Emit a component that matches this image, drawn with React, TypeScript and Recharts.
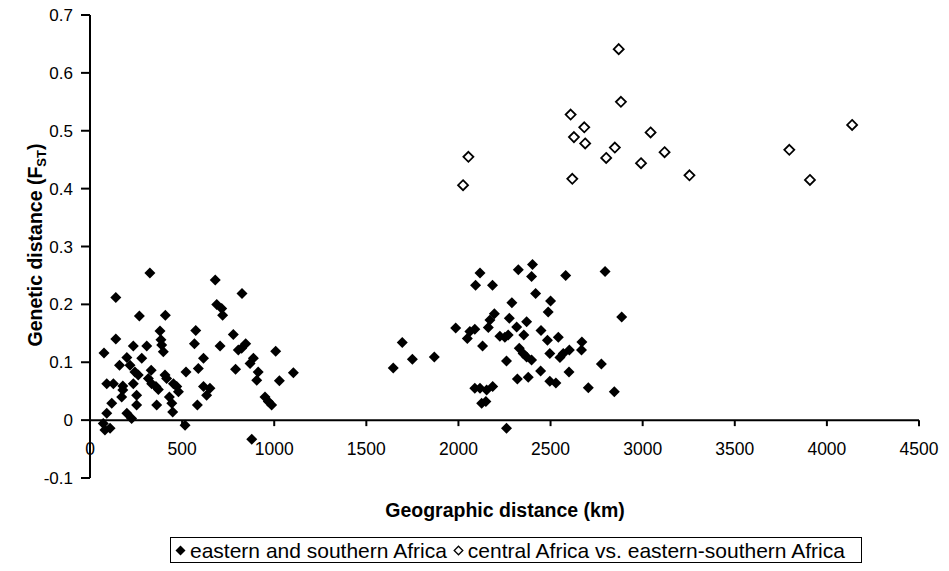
import React from 'react';
import { ScatterChart, Scatter, XAxis, YAxis, ReferenceLine, Legend } from 'recharts';

// x ticks (km) and y ticks (Fst)
const xTicks = [0, 500, 1000, 1500, 2000, 2500, 3000, 3500, 4000, 4500];
const yTicks = [-0.1, 0, 0.1, 0.2, 0.3, 0.4, 0.5, 0.6, 0.7];

const seriesNames = ['eastern and southern Africa', 'central Africa vs. eastern-southern Africa'];

// eastern and southern Africa (filled diamonds)
const easternKm = [
  325, 140, 680, 825, 268, 409, 688, 715, 720, 380, 574, 140, 385, 389, 398, 567, 778, 76, 235, 308,
  706, 845, 823, 805, 200, 281, 160, 217, 244, 262, 616, 588, 887, 869, 1008, 1104, 1028, 790, 913, 905,
  521, 332, 407, 416, 91, 127, 178, 317, 335, 235, 358, 453, 471, 480, 431, 444, 449, 371, 616, 651,
  633, 583, 950, 968, 986, 172, 118, 178, 253, 253, 200, 226, 362, 91, 72, 81, 109, 516, 878,
  2402, 2325, 2397, 2117, 2093, 2185, 2582, 2796, 2419, 2500, 2487, 2290, 2886, 2195, 2171, 2276, 2370, 2316, 2162, 1985,
  2089, 2062, 2048, 2448, 2225, 2252, 2270, 2355, 2483, 2542, 2670, 2668, 2602, 2569, 2551, 2496, 2330, 2351, 2370, 2397,
  2131, 1695, 1750, 1869, 1646, 2261, 2446, 2600, 2776, 2320, 2379, 2496, 2529, 2705, 2846, 2089, 2117, 2153, 2186, 2126,
  2149, 2261,
];
const easternFst = [
  0.254, 0.212, 0.242, 0.219, 0.18, 0.181, 0.2, 0.193, 0.181, 0.154, 0.155, 0.14, 0.139, 0.13, 0.118, 0.132, 0.148, 0.116, 0.128, 0.128,
  0.128, 0.132, 0.124, 0.121, 0.108, 0.107, 0.095, 0.095, 0.083, 0.078, 0.107, 0.089, 0.107, 0.098, 0.119, 0.082, 0.068, 0.088, 0.083, 0.069,
  0.083, 0.086, 0.078, 0.072, 0.063, 0.063, 0.059, 0.072, 0.063, 0.063, 0.058, 0.063, 0.058, 0.049, 0.04, 0.029, 0.014, 0.053, 0.058, 0.055,
  0.043, 0.026, 0.04, 0.032, 0.026, 0.04, 0.029, 0.052, 0.043, 0.026, 0.012, 0.003, 0.026, 0.012, -0.006, -0.017, -0.014, -0.009, -0.033,
  0.269, 0.26, 0.248, 0.254, 0.233, 0.233, 0.25, 0.257, 0.219, 0.206, 0.187, 0.203, 0.178, 0.184, 0.173, 0.176, 0.17, 0.161, 0.16, 0.159,
  0.157, 0.153, 0.141, 0.155, 0.145, 0.143, 0.147, 0.147, 0.138, 0.143, 0.135, 0.121, 0.121, 0.115, 0.108, 0.115, 0.124, 0.115, 0.109, 0.104,
  0.128, 0.134, 0.105, 0.109, 0.09, 0.102, 0.085, 0.083, 0.097, 0.071, 0.074, 0.067, 0.064, 0.056, 0.049, 0.055, 0.055, 0.052, 0.058, 0.029,
  0.032, -0.014,
];

// central Africa vs. eastern-southern Africa (open diamonds)
const centralKm = [2870, 2882, 2609, 2683, 2627, 2688, 3043, 2849, 2802, 3119, 2991, 3254, 2618, 2054, 2025, 3796, 4137, 3908];
const centralFst = [0.641, 0.55, 0.528, 0.506, 0.489, 0.478, 0.497, 0.471, 0.453, 0.463, 0.444, 0.423, 0.417, 0.455, 0.406, 0.467, 0.51, 0.415];

const eastern = easternKm.map((km, i) => ({ km, fst: easternFst[i] }));
const central = centralKm.map((km, i) => ({ km, fst: centralFst[i] }));

const FONT = "Arial, 'Liberation Sans', Helvetica, sans-serif";
const W = 949;
const H = 571;
const MARGIN = { top: 15, right: 30, bottom: 0, left: 0 };
const Y_AXIS_W = 90;
const X_AXIS_H = 93;
const Y_MIN = -0.1;
const Y_MAX = 0.7;
// the x axis crosses at Fst = 0, so shift its ticks up from the plot bottom
const PLOT_H = H - MARGIN.top - X_AXIS_H;
const ZERO_SHIFT = (PLOT_H * (0 - Y_MIN)) / (Y_MAX - Y_MIN);

const FilledDiamond = (props: any) => {
  const { cx, cy } = props;
  const r = 5.5;
  return <polygon points={`${cx},${cy - r} ${cx + r},${cy} ${cx},${cy + r} ${cx - r},${cy}`} fill="#000" />;
};

const OpenDiamond = (props: any) => {
  const { cx, cy } = props;
  const r = 5;
  return (
    <polygon
      points={`${cx},${cy - r} ${cx + r},${cy} ${cx},${cy + r} ${cx - r},${cy}`}
      fill="#fff"
      stroke="#000"
      strokeWidth={1.8}
    />
  );
};

const XTick = (props: any) => {
  const { x, y, payload } = props;
  const y0 = y - ZERO_SHIFT;
  return (
    <g>
      <line x1={x} x2={x} y1={y0} y2={y0 + 6} stroke="#000" strokeWidth={2} />
      <text x={x} y={y0 + 35} textAnchor="middle" fill="#000" fontSize={17.5} fontFamily={FONT}>
        {payload.value}
      </text>
    </g>
  );
};

const LegendBox = () => (
  <div
    style={{
      border: '1.5px solid #000',
      height: 24,
      display: 'flex',
      alignItems: 'center',
      paddingLeft: 4,
      fontFamily: FONT,
      fontSize: 21,
      lineHeight: 1,
      color: '#000',
      whiteSpace: 'nowrap',
      background: '#fff',
      overflow: 'hidden',
    }}
  >
    {seriesNames.map((name, i) => (
      <span key={name} style={{ display: 'inline-flex', alignItems: 'center', marginRight: 6 }}>
        <svg width={11} height={11} style={{ marginRight: 4 }}>
          {i === 0 ? (
            <polygon points="5.5,0.5 10.5,5.5 5.5,10.5 0.5,5.5" fill="#000" />
          ) : (
            <polygon points="5.5,1.2 9.8,5.5 5.5,9.8 1.2,5.5" fill="#fff" stroke="#000" strokeWidth={1.3} />
          )}
        </svg>
        {name}
      </span>
    ))}
  </div>
);

export default function App() {
  return (
    <div style={{ position: 'absolute', left: 0, top: 0, width: W, height: H, background: '#fff' }}>
      <ScatterChart width={W} height={H} margin={MARGIN}>
        <XAxis
          type="number"
          dataKey="km"
          domain={[0, 4500]}
          ticks={xTicks}
          interval={0}
          height={X_AXIS_H}
          axisLine={false}
          tickLine={false}
          tickSize={0}
          tickMargin={0}
          tick={<XTick />}
          label={{
            content: () => (
              <text x={505} y={517} textAnchor="middle" fontSize={19.5} fontWeight="bold" fontFamily={FONT} fill="#000">
                Geographic distance (km)
              </text>
            ),
          }}
        />
        <YAxis
          type="number"
          dataKey="fst"
          domain={[Y_MIN, Y_MAX]}
          ticks={yTicks}
          interval={0}
          width={Y_AXIS_W}
          axisLine={{ stroke: '#000', strokeWidth: 2 }}
          tickLine={{ stroke: '#000', strokeWidth: 2 }}
          tickSize={9}
          tickMargin={8}
          tick={{ fill: '#000', fontSize: 17, fontFamily: FONT }}
          label={{
            content: () => (
              <text
                transform="translate(42,245) rotate(-90)"
                textAnchor="middle"
                fontSize={19.5}
                fontWeight="bold"
                fontFamily={FONT}
                fill="#000"
              >
                Genetic distance (F
                <tspan dy={4} fontSize={13}>ST</tspan>
                <tspan dy={-4}>)</tspan>
              </text>
            ),
          }}
        />
        <ReferenceLine y={0} stroke="#000" strokeWidth={2} />
        <Legend
          layout="horizontal"
          verticalAlign="middle"
          align="center"
          content={<LegendBox />}
          wrapperStyle={{ top: 537, left: 170, width: 692 }}
        />
        <Scatter
          name={seriesNames[0]}
          data={eastern}
          fill="#000"
          shape={<FilledDiamond />}
          legendType="diamond"
          isAnimationActive={false}
        />
        <Scatter
          name={seriesNames[1]}
          data={central}
          fill="#fff"
          stroke="#000"
          shape={<OpenDiamond />}
          legendType="diamond"
          isAnimationActive={false}
        />
      </ScatterChart>
    </div>
  );
}
